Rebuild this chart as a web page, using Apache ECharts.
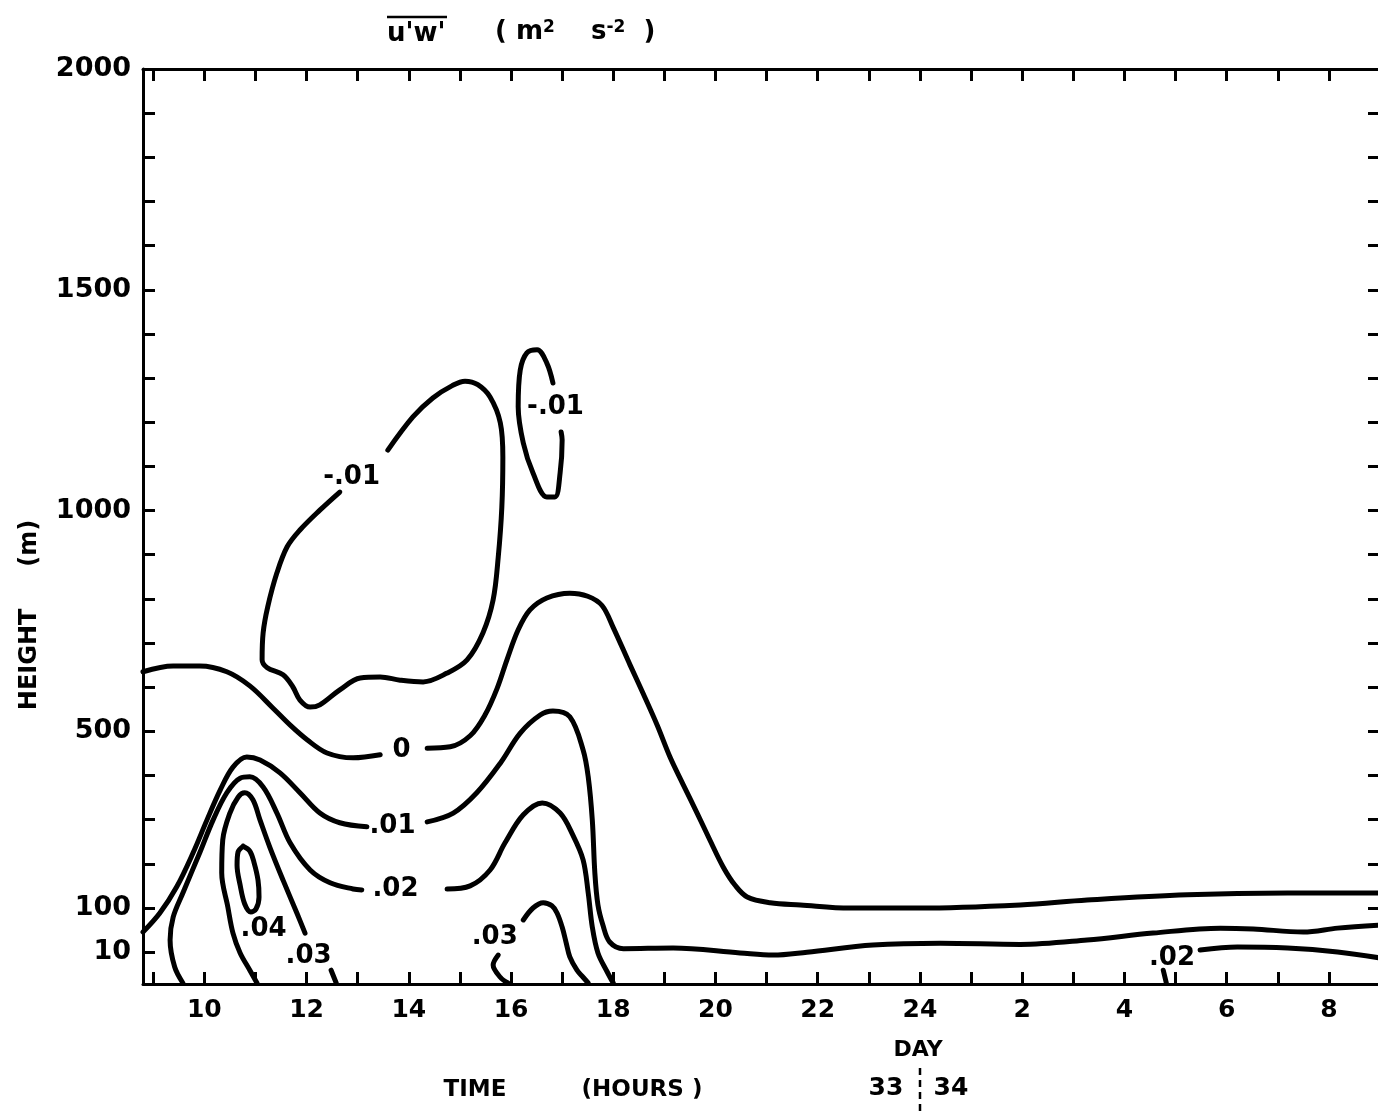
<!DOCTYPE html>
<html>
<head>
<meta charset="utf-8">
<script src="https://cdn.jsdelivr.net/npm/echarts@6/dist/echarts.min.js"></script>
<style>
html,body{margin:0;padding:0;background:#fff;}
#chart{width:1378px;height:1112px;}
</style>
</head>
<body>
<div id="chart"></div>
<script>
// ---------- axes ----------
const hourMin = 8.8;          // continuous hours of day 33 (24 = midnight)
const hourMax = 33;
const heightBottom = 1.9;     // m, bottom of stretched surface layer
const heightTop = 2000;
const xTickHours = [9,10,11,12,13,14,15,16,17,18,19,20,21,22,23,24,25,26,27,28,29,30,31,32,33];
const xLabelHours = [10,12,14,16,18,20,22,24,26,28,30,32];
const yTickHeights = [10,100,200,300,400,500,600,700,800,900,1000,1100,1200,1300,1400,1500,1600,1700,1800,1900,2000];
const yLabelHeights = [10,100,500,1000,1500,2000];

// ---------- contours of u'w' (m^2 s^-2): [hour, height m] ----------
const cNeg01Big = [[12.65,1042],[12.26,1001],[11.87,956],[11.62,918],[11.42,859],[11.24,782],[11.15,723],[11.13,662],[11.23,644],[11.54,628],[11.73,601],[11.87,571],[12.07,555],[12.26,560],[12.65,594],[13.05,621],[13.44,623],[13.83,616],[14.28,612],[14.75,632],[15.14,662],[15.45,723],[15.65,798],[15.75,895],[15.82,1008],[15.84,1121],[15.79,1199],[15.59,1257],[15.35,1285],[15.10,1293],[14.85,1283],[14.47,1255],[14.08,1212],[13.59,1137]];
const cNeg01Small = [[16.98,1178],[17.00,1160],[16.96,1085],[16.86,1031],[16.70,1031],[16.43,1085],[16.24,1153],[16.14,1235],[16.18,1318],[16.31,1357],[16.51,1364],[16.70,1334],[16.82,1289]];
const c00a = [[8.8,635],[9.39,648],[9.91,648],[10.44,635],[10.89,603],[11.34,553],[11.68,514],[12.01,481],[12.40,451],[12.91,440],[13.44,447]];
const c00b = [[14.36,462],[14.81,465],[15.20,490],[15.49,537],[15.73,598],[15.92,662],[16.14,730],[16.37,775],[16.70,802],[17.15,813],[17.50,806],[17.78,785],[18.00,735],[18.33,650],[18.58,587],[18.86,514],[19.11,442],[19.37,379],[19.64,315],[19.89,254],[20.15,193],[20.38,152],[20.62,125],[21.07,112],[21.66,107],[22.63,100],[24.00,100],[25.96,107],[27.27,118],[29.23,130],[31.19,134],[33,134]];
const c01a = [[8.8,28.6],[9.13,77],[9.46,148],[9.78,225],[10.05,299],[10.31,367],[10.56,419],[10.83,442],[11.09,435],[11.48,406],[11.87,361],[12.26,315],[12.65,293],[13.18,284]];
const c01b = [[14.36,295],[14.87,315],[15.33,361],[15.79,428],[16.18,496],[16.57,537],[16.82,546],[17.15,533],[17.41,458],[17.51,397],[17.59,299],[17.64,179],[17.70,107],[17.80,40],[17.93,17],[18.2,12],[19.17,12.4],[20.48,9.6],[21.13,8.6],[21.79,10],[23.08,14.5],[24.40,16],[25.96,15],[27.27,18.9],[28.56,27],[29.88,35],[30.52,33.5],[31.50,28.6],[32.17,35],[33,41]];
const c02a = [[9.58,2],[9.42,4.6],[9.33,18.9],[9.39,62],[9.58,134],[9.91,225],[10.17,299],[10.44,361],[10.70,394],[10.89,397],[11.15,374],[11.42,315],[11.68,247],[12.07,186],[12.46,157],[12.91,143],[13.08,141]];
const c02b = [[14.75,143],[15.20,150],[15.59,186],[15.88,247],[16.24,311],[16.61,338],[16.96,315],[17.21,265],[17.41,209],[17.51,134],[17.59,37],[17.70,9.6],[17.88,3.6],[18.00,2]];
const c02c = [[29.48,11.2],[30.21,13.1],[31.19,12.4],[32.17,10.1],[33,7.4]];
const c02d = [[28.76,3.9],[28.82,2]];
const c03a = [[11.03,2],[10.89,3.9],[10.70,9.6],[10.56,27],[10.46,102],[10.34,179],[10.36,254],[10.50,315],[10.66,351],[10.79,361],[10.95,345],[11.09,299],[11.28,238],[11.54,163],[11.81,77],[11.97,27]];
const c03b = [[12.48,3.9],[12.58,2]];
const c03c = [[15.75,8.6],[15.65,5.1],[15.79,2.7],[15.94,2]];
const c03d = [[16.24,53.5],[16.43,100],[16.63,112],[16.80,105],[16.90,77],[17.00,37],[17.08,16.1],[17.15,7.8],[17.29,3.9],[17.41,2.7],[17.51,2]];
const c04 = [[10.76,240],[10.89,229],[10.97,204],[11.05,163],[11.07,125],[11.01,95],[10.91,81],[10.79,109],[10.70,152],[10.64,197],[10.66,227],[10.76,240]];

const contourSegments = [cNeg01Big, cNeg01Small, c00a, c00b, c01a, c01b, c02a, c02b, c02c, c02d, c03a, c03b, c03c, c03d, c04];

// contour value labels: text, hour, height (m)
const labelTexts   = ['-.01', '-.01', '0', '.01', '.02', '.04', '.03', '.03', '.02'];
const labelHours   = [12.89, 16.88, 13.87, 13.69, 13.75, 11.17, 12.05, 15.69, 28.94];
const labelHeights = [1074, 1232, 456, 284, 141, 32, 7.8, 21, 7.0];

// ---------- height scale: linear above 100 m, logarithmic below ----------
const toAxis = h => h >= 100 ? h : 100 * (Math.log10(h) - 1);
const fromAxis = u => u >= 100 ? u : Math.pow(10, u / 100 + 1);

const FONT = 'DejaVu Sans';
const BLACK = '#000';
const lineAxis = {show: true, onZero: false, lineStyle: {color: BLACK, width: 3}};
const tickBase = {show: true, inside: true, length: 12, lineStyle: {color: BLACK, width: 3}};

const chart = echarts.init(document.getElementById('chart'), null, {renderer: 'canvas'});

const series = contourSegments.map(seg => ({
  type: 'line',
  xAxisIndex: 0, yAxisIndex: 0,
  data: seg.map(p => [p[0], toAxis(p[1])]),
  symbol: 'none', showSymbol: false,
  smooth: 0.35,
  clip: true, silent: true,
  lineStyle: {color: BLACK, width: 5, cap: 'round', join: 'round'},
  z: 3
}));

series.push({
  type: 'scatter',
  xAxisIndex: 0, yAxisIndex: 0,
  silent: true,
  symbolSize: 1,
  itemStyle: {color: 'rgba(0,0,0,0)'},
  emphasis: {disabled: true},
  data: labelTexts.map((t, i) => ({name: t, value: [labelHours[i], toAxis(labelHeights[i])]})),
  label: {show: true, position: [0, 0], align: 'center', verticalAlign: 'middle', formatter: '{b}',
          fontFamily: FONT, fontWeight: 'bold', fontSize: 26, color: BLACK, opacity: 1},
  z: 4
});

const boldFont = (size) => 'bold ' + size + 'px "DejaVu Sans"';

const option = {
  animation: false,
  backgroundColor: '#fff',
  grid: {left: 143, top: 69, right: -2, bottom: 128, containLabel: false, outerBoundsMode: 'none'},
  xAxis: [
    {
      type: 'value', min: hourMin, max: hourMax, position: 'bottom',
      axisLine: lineAxis,
      axisTick: Object.assign({}, tickBase, {customValues: xTickHours}),
      axisLabel: {customValues: xLabelHours, formatter: v => String(v > 24 ? v - 24 : v),
                  fontFamily: FONT, fontWeight: 'bold', fontSize: 25, color: BLACK, margin: 14},
      splitLine: {show: false}
    },
    {
      type: 'value', min: hourMin, max: hourMax, position: 'top',
      axisLine: lineAxis,
      axisTick: Object.assign({}, tickBase, {customValues: xTickHours}),
      axisLabel: {show: false},
      splitLine: {show: false}
    }
  ],
  yAxis: [
    {
      type: 'value', min: toAxis(heightBottom), max: heightTop, position: 'left',
      axisLine: lineAxis,
      axisTick: Object.assign({}, tickBase, {customValues: yTickHeights.map(toAxis)}),
      axisLabel: {customValues: yLabelHeights.map(toAxis), formatter: v => String(Math.round(fromAxis(v))),
                  fontFamily: FONT, fontWeight: 'bold', fontSize: 27, color: BLACK, margin: 12},
      splitLine: {show: false}
    },
    {
      type: 'value', min: toAxis(heightBottom), max: heightTop, position: 'right',
      axisLine: lineAxis,
      axisTick: Object.assign({}, tickBase, {customValues: yTickHeights.filter(h => h >= 100).map(toAxis)}),
      axisLabel: {show: false},
      splitLine: {show: false}
    }
  ],
  graphic: [
    {type: 'text', left: 387, top: 21, style: {text: "u'w'", font: boldFont(26), fill: BLACK}},
    {type: 'line', shape: {x1: 387, y1: 17, x2: 447, y2: 17}, style: {stroke: BLACK, lineWidth: 2.5}},
    {type: 'text', left: 495, top: 19, style: {
      text: '( m{s|2}    s{s|-2}  )',
      font: boldFont(26), fill: BLACK,
      rich: {s: {fontSize: 17, fontWeight: 'bold', fontFamily: FONT, fill: BLACK, verticalAlign: 'top', padding: [0, 0, 10, 0]}}
    }},
    {type: 'text', x: 30, y: 615, rotation: Math.PI / 2,
     style: {text: 'HEIGHT     (m)', font: boldFont(24), fill: BLACK, align: 'center', verticalAlign: 'middle'}},
    {type: 'text', x: 475, y: 1090, style: {text: 'TIME', font: boldFont(23), fill: BLACK, align: 'center', verticalAlign: 'middle'}},
    {type: 'text', x: 642, y: 1090, style: {text: '(HOURS )', font: boldFont(23), fill: BLACK, align: 'center', verticalAlign: 'middle'}},
    {type: 'text', x: 918, y: 1050, style: {text: 'DAY', font: boldFont(22), fill: BLACK, align: 'center', verticalAlign: 'middle'}},
    {type: 'text', x: 886, y: 1088, style: {text: '33', font: boldFont(25), fill: BLACK, align: 'center', verticalAlign: 'middle'}},
    {type: 'text', x: 951, y: 1088, style: {text: '34', font: boldFont(25), fill: BLACK, align: 'center', verticalAlign: 'middle'}},
    {type: 'line', shape: {x1: 920, y1: 1068, x2: 920, y2: 1112}, style: {stroke: BLACK, lineWidth: 2.5, lineDash: [7, 5]}}
  ],
  series: series
};

chart.setOption(option);
</script>
</body>
</html>
